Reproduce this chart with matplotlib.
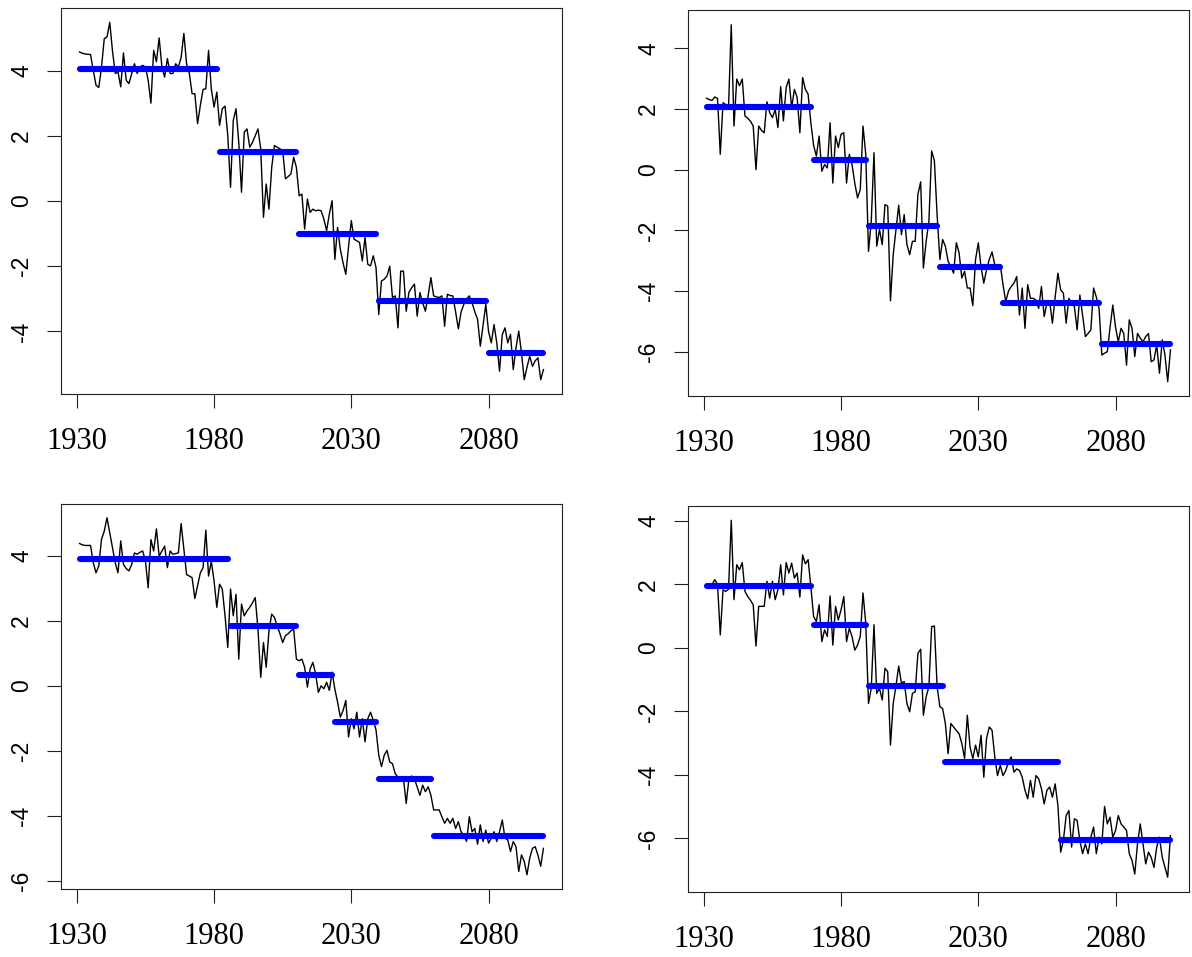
import numpy as np
import matplotlib
matplotlib.use("Agg")
import matplotlib.pyplot as plt
from matplotlib.ticker import MultipleLocator

plt.rcParams["axes.unicode_minus"] = False

# annual series, 1931-2100
years = np.arange(1931, 2101)

series_a = [
    4.57, 4.53, 4.51, 4.50, 4.49, 4.00, 3.55, 3.48, 4.10, 4.98,
    5.03, 5.48, 4.60, 3.91, 3.96, 3.50, 4.54, 3.70, 3.60, 3.90,
    4.21, 3.91, 4.11, 4.16, 4.11, 3.70, 3.00, 4.62, 4.27, 5.00,
    4.11, 3.80, 4.37, 3.91, 3.91, 4.21, 4.11, 4.40, 5.14, 4.20,
    3.91, 3.29, 3.29, 2.37, 2.93, 3.42, 3.44, 4.62, 3.44, 2.88,
    3.34, 2.32, 2.83, 2.91, 2.01, 0.42, 2.47, 2.83, 1.80, 0.27,
    2.11, 2.21, 1.65, 1.80, 2.00, 2.21, 1.60, -0.50, 0.52, -0.25,
    1.03, 1.70, 1.65, 1.60, 1.55, 0.68, 0.75, 0.83, 1.34, 1.03,
    0.16, 0.21, -0.86, 0.06, -0.35, -0.25, -0.30, -0.28, -0.30, -0.55,
    -0.91, -0.40, 0.01, -1.79, -0.81, -1.48, -1.90, -2.25, -1.40, -0.60,
    -1.17, -1.22, -1.27, -1.84, -1.12, -1.94, -1.99, -1.68, -2.04, -3.48,
    -2.45, -2.40, -2.30, -2.00, -2.96, -2.91, -3.89, -2.15, -2.15, -3.38,
    -2.80, -2.66, -2.55, -3.53, -2.81, -3.12, -3.38, -2.90, -2.35, -2.91,
    -2.94, -2.96, -2.91, -3.84, -2.86, -2.90, -2.91, -3.40, -3.92, -3.40,
    -3.17, -3.00, -2.91, -3.12, -3.40, -3.63, -4.45, -3.80, -3.17, -4.00,
    -4.35, -3.79, -4.35, -5.22, -4.10, -3.89, -4.35, -4.09, -5.17, -4.50,
    -3.99, -4.66, -5.48, -5.10, -4.76, -5.07, -4.90, -4.81, -5.48, -5.17,
]

series_b = [
    2.36, 2.31, 2.29, 2.40, 2.35, 0.51, 2.21, 2.15, 2.05, 4.78,
    1.44, 2.99, 2.77, 2.99, 1.77, 1.70, 1.60, 1.44, 0.00, 1.44,
    1.30, 1.22, 2.24, 1.88, 1.72, 1.99, 1.39, 2.74, 1.61, 2.71,
    2.99, 2.05, 2.65, 2.38, 1.22, 3.04, 2.65, 2.49, 1.55, 0.80,
    0.45, 1.11, -0.05, 0.17, 0.06, 1.55, -0.44, 1.11, 0.73, 1.17,
    1.22, -0.44, 0.51, 0.17, -0.44, -0.93, -0.65, 1.44, 0.51, -2.69,
    -1.70, 0.56, -2.52, -1.97, -2.47, -1.15, -1.20, -4.32, -2.80, -2.00,
    -1.17, -2.14, -1.48, -2.47, -2.80, -2.36, -2.36, -0.81, -0.40, -3.24,
    -2.36, -1.70, 0.62, 0.30, -1.50, -2.96, -2.30, -2.52, -3.02, -3.20,
    -3.41, -2.41, -2.74, -3.57, -3.35, -3.90, -3.90, -4.48, -2.96, -2.41,
    -3.20, -3.74, -3.30, -2.96, -2.71, -3.13, -3.13, -3.13, -3.79, -4.35,
    -4.00, -3.85, -3.74, -3.52, -4.79, -3.90, -5.23, -3.79, -4.24, -4.24,
    -4.30, -4.57, -3.85, -4.84, -4.40, -4.35, -5.06, -4.20, -3.41, -3.96,
    -4.07, -5.06, -4.24, -4.40, -4.51, -5.28, -4.13, -4.80, -5.50, -5.40,
    -5.28, -3.90, -4.20, -4.57, -6.11, -6.05, -6.00, -5.20, -4.46, -5.20,
    -5.67, -5.23, -5.40, -6.44, -4.95, -5.23, -6.16, -5.40, -5.55, -5.67,
    -5.50, -5.40, -6.33, -6.27, -5.78, -6.71, -5.61, -6.11, -6.99, -5.94,
]

series_c = [
    4.37, 4.33, 4.31, 4.31, 4.31, 3.78, 3.47, 3.68, 4.50, 4.75,
    5.16, 4.70, 4.24, 3.78, 3.47, 4.45, 3.73, 3.60, 3.53, 3.73,
    4.08, 4.04, 4.10, 4.14, 3.83, 3.01, 4.49, 4.14, 4.82, 3.98,
    4.14, 4.29, 3.63, 4.14, 4.04, 4.06, 4.08, 4.98, 4.19, 3.42,
    3.37, 3.32, 2.68, 3.07, 3.47, 3.63, 4.78, 3.37, 3.83, 3.22,
    2.41, 3.12, 2.97, 2.15, 1.18, 2.97, 2.15, 2.81, 0.82, 2.51,
    2.15, 2.30, 2.41, 2.55, 2.71, 1.74, 0.26, 1.33, 0.57, 1.69,
    2.20, 2.10, 1.84, 1.60, 1.33, 1.54, 1.60, 1.69, 1.74, 0.82,
    0.77, 0.82, 0.57, -0.04, 0.52, 0.72, 0.37, -0.20, 0.00, -0.09,
    0.11, -0.14, 0.42, -0.10, -0.50, -0.96, -0.76, -0.45, -1.57, -1.01,
    -1.32, -0.81, -1.57, -1.01, -1.72, -1.01, -0.81, -1.06, -1.35, -2.13,
    -2.48, -2.13, -1.98, -2.34, -2.39, -2.70, -2.80, -2.80, -2.85, -3.61,
    -2.85, -2.77, -2.85, -3.10, -3.36, -3.05, -3.25, -3.10, -3.36, -3.81,
    -3.81, -3.81, -4.02, -4.22, -4.07, -4.22, -4.07, -4.38, -4.17, -4.48,
    -4.60, -4.78, -4.02, -4.48, -4.38, -4.86, -4.27, -4.78, -4.43, -4.83,
    -4.68, -4.48, -4.78, -4.48, -4.12, -4.68, -4.73, -5.09, -4.78, -4.94,
    -5.70, -5.19, -5.39, -5.80, -5.29, -4.99, -4.94, -5.20, -5.54, -4.99,
]

series_d = [
    2.00, 1.97, 2.00, 2.15, 2.00, 0.41, 1.83, 1.78, 1.85, 4.02,
    1.52, 2.62, 2.46, 2.69, 1.78, 1.62, 1.50, 1.36, 0.06, 1.31,
    1.31, 1.31, 2.10, 1.57, 2.10, 1.52, 1.83, 2.62, 1.67, 2.69,
    2.36, 2.67, 2.20, 2.36, 1.60, 2.93, 2.65, 2.78, 1.93, 0.99,
    0.83, 1.36, 0.20, 0.57, 0.36, 1.64, 0.09, 1.31, 0.88, 1.20,
    1.62, 0.20, 0.62, 0.36, -0.07, 0.09, 0.36, 1.73, 0.78, -1.75,
    -1.27, 0.73, -1.43, -1.27, -1.64, -0.64, -0.75, -3.06, -1.75, -1.20,
    -0.57, -1.11, -1.06, -1.75, -2.01, -1.43, -1.38, -0.17, -0.04, -2.12,
    -1.54, -1.22, 0.67, 0.69, -1.22, -1.85, -1.91, -2.38, -3.33, -2.38,
    -2.49, -2.60, -2.70, -3.01, -3.48, -2.12, -3.12, -3.48, -3.06, -3.43,
    -2.75, -4.07, -2.85, -2.49, -2.59, -3.43, -4.02, -3.70, -4.02, -3.86,
    -3.59, -3.43, -3.91, -3.81, -3.86, -4.07, -4.48, -4.75, -4.17, -4.70,
    -4.02, -4.12, -4.43, -4.91, -4.48, -4.38, -4.70, -4.28, -4.96, -6.43,
    -6.06, -5.28, -5.12, -6.27, -5.38, -5.43, -6.06, -6.48, -6.17, -6.48,
    -5.96, -5.64, -6.48, -5.96, -6.17, -4.99, -5.54, -5.33, -5.96, -5.75,
    -5.28, -5.54, -5.64, -5.75, -6.48, -6.69, -7.12, -6.17, -5.54, -6.17,
    -6.80, -6.43, -6.60, -6.91, -6.27, -5.96, -6.59, -6.90, -7.22, -5.91,
]

# regime means: first year, last year, level
seg_start_a = [1931, 1982, 2011, 2040, 2080]
seg_end_a = [1981, 2010, 2039, 2079, 2100]
seg_level_a = [4.04, 1.50, -1.01, -3.08, -4.65]

seg_start_b = [1931, 1970, 1990, 2016, 2039, 2075]
seg_end_b = [1969, 1989, 2015, 2038, 2074, 2100]
seg_level_b = [2.07, 0.33, -1.84, -3.20, -4.41, -5.75]

seg_start_c = [1931, 1986, 2011, 2024, 2040, 2060]
seg_end_c = [1985, 2010, 2023, 2039, 2059, 2100]
seg_level_c = [3.88, 1.84, 0.32, -1.11, -2.87, -4.61]

seg_start_d = [1931, 1970, 1990, 2018, 2060]
seg_end_d = [1969, 1989, 2017, 2059, 2100]
seg_level_d = [1.96, 0.73, -1.19, -3.58, -6.06]

x_ticks = [1930, 1980, 2030, 2080]

W, H = 1192, 957
fig = plt.figure(figsize=(W / 100, H / 100), dpi=100)

# panel frames in pixels: left, right, top, bottom
frames = [
    (61, 562, 8, 394),
    (688, 1189, 10.5, 396),
    (61, 562, 503.5, 889),
    (688, 1189, 506, 891.5),
]
panels = [
    (series_a, seg_start_a, seg_end_a, seg_level_a),
    (series_b, seg_start_b, seg_end_b, seg_level_b),
    (series_c, seg_start_c, seg_end_c, seg_level_c),
    (series_d, seg_start_d, seg_end_d, seg_level_d),
]

edge = "#222222"
for (l, r, t, b), (vals, s0, s1, lev) in zip(frames, panels):
    ax = fig.add_axes([l / W, 1 - b / H, (r - l) / W, (b - t) / H])
    ax.plot(years, vals, color="black", lw=1.0, zorder=2)
    for a, e, v in zip(s0, s1, lev):
        ax.plot([a, e], [v, v], color="#0000ff", lw=4.4,
                solid_capstyle="round", zorder=3)
    ax.margins(x=0.04, y=0.04)
    ax.set_xticks(x_ticks)
    ax.set_xticklabels([str(v) for v in x_ticks],
                       fontfamily="Liberation Serif", fontsize=22)
    ax.yaxis.set_major_locator(MultipleLocator(2))
    for lab in ax.get_yticklabels():
        lab.set_fontfamily("Liberation Sans")
        lab.set_fontsize(16.5)
        lab.set_rotation(90)
        lab.set_verticalalignment("center")
    ax.tick_params(axis="both", direction="out", length=10, width=0.8,
                   color=edge, labelcolor="black")
    ax.tick_params(axis="x", pad=14)
    ax.tick_params(axis="y", pad=10)
    for sp in ax.spines.values():
        sp.set_color(edge)
        sp.set_linewidth(0.8)

fig.savefig("out.png", dpi=100, facecolor="white")
